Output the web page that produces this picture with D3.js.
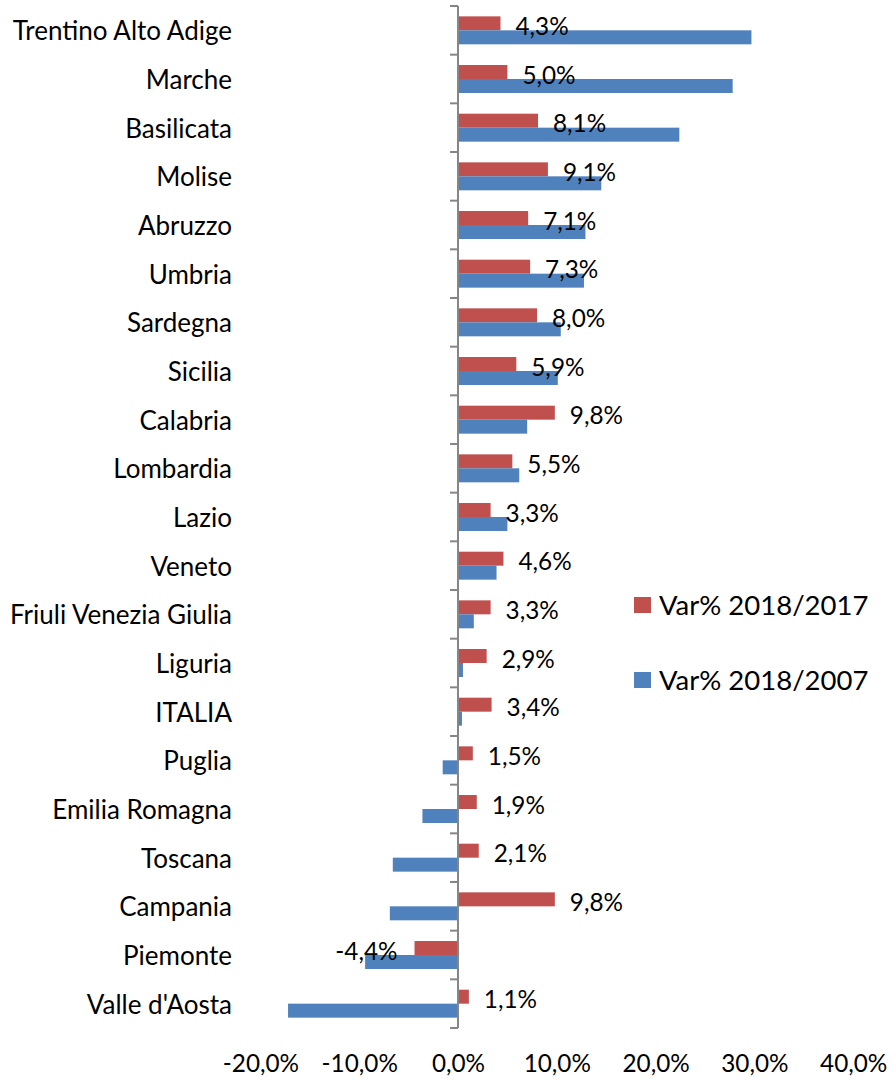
<!DOCTYPE html>
<html>
<head>
<meta charset="utf-8">
<script src="https://cdn.jsdelivr.net/npm/d3@7"></script>
<style>
  html, body { margin: 0; padding: 0; background: #fff; }
  svg text { font-family: Lato, "Open Sans", sans-serif; fill: #000; }
</style>
</head>
<body>
<svg id="chart" width="893" height="1081"></svg>
<script>
const regions = ["Trentino Alto Adige","Marche","Basilicata","Molise","Abruzzo","Umbria","Sardegna","Sicilia","Calabria","Lombardia","Lazio","Veneto","Friuli Venezia Giulia","Liguria","ITALIA","Puglia","Emilia Romagna","Toscana","Campania","Piemonte","Valle d'Aosta"];
const var2017 = [4.3,5.0,8.1,9.1,7.1,7.3,8.0,5.9,9.8,5.5,3.3,4.6,3.3,2.9,3.4,1.5,1.9,2.1,9.8,-4.4,1.1];
const var2007 = [29.7,27.8,22.4,14.5,12.9,12.75,10.4,10.1,7.0,6.2,5.0,3.9,1.6,0.5,0.4,-1.55,-3.6,-6.6,-6.9,-9.4,-17.2];
const xTicks = [-20,-10,0,10,20,30,40];
const seriesNames = ["Var% 2018/2017","Var% 2018/2007"];
const seriesKeys = ["s2017","s2007"];
const colors = ["#C0504D","#4F81BD"];

const rows = regions.map((r,i) => ({region:r, s2017:var2017[i], s2007:var2007[i]}));

const svg = d3.select("#chart");
const numSize = 24.3, catSize = 26, legSize = 27.5;

const x = d3.scaleLinear().domain([-20,40]).range([260.4,853.2]);
const y = d3.scaleBand().domain(regions).range([6,1028]).padding(0);
const ySub = d3.scaleBand().domain(seriesKeys).range([0,y.bandwidth()]).paddingInner(0).paddingOuter(0.74);
const color = d3.scaleOrdinal().domain(seriesKeys).range(colors);

const it = d3.formatLocale({decimal:",", thousands:".", grouping:[3], currency:["","€"], minus:"-"});
const fmtPct = it.format(".1f");

// bars
const g = svg.append("g");
seriesKeys.forEach(k => {
  g.selectAll("rect."+k).data(rows).join("rect")
    .attr("class", k)
    .attr("x", d => x(Math.min(0,d[k])))
    .attr("width", d => Math.abs(x(d[k]) - x(0)))
    .attr("y", d => y(d.region) + ySub(k))
    .attr("height", ySub.bandwidth())
    .attr("fill", color(k));
});

// data labels for 2018/2017
g.selectAll("text.lbl").data(rows).join("text")
  .attr("class","lbl")
  .attr("x", d => d.s2017 >= 0 ? x(d.s2017) + 15 : x(d.s2017) - 17)
  .attr("y", d => y(d.region) + ySub("s2017") + ySub.bandwidth()/2 + 3)
  .attr("dy", "0.35em")
  .attr("text-anchor", d => d.s2017 >= 0 ? "start" : "end")
  .style("font-size", numSize + "px")
  .text(d => fmtPct(d.s2017) + "%");

// vertical axis at zero
const ya = svg.append("g").attr("transform", `translate(${x(0)},0)`);
ya.append("line").attr("y1", y.range()[0]).attr("y2", y.range()[1])
  .attr("stroke", "#868686").attr("stroke-width", 2);
const boundaries = regions.map(r => y(r)).concat([y.range()[1]]);
ya.selectAll("line.tk").data(boundaries).join("line")
  .attr("class","tk").attr("x1",-8).attr("x2",0)
  .attr("y1", d=>d).attr("y2", d=>d)
  .attr("stroke", "#868686").attr("stroke-width", 2);

// category labels
svg.append("g").selectAll("text").data(regions).join("text")
  .attr("x", 232)
  .attr("y", d => y(d) + y.bandwidth()/2 + 1)
  .attr("dy","0.35em")
  .attr("text-anchor","end")
  .style("font-size", catSize + "px")
  .text(d => d);

// x axis tick labels (no line)
const xAxis = d3.axisBottom(x).tickValues(xTicks).tickSize(0).tickFormat(d => fmtPct(d) + "%");
const xa = svg.append("g").attr("transform","translate(0,1052)").call(xAxis);
xa.select(".domain").remove();
xa.selectAll("text").style("font-size", numSize + "px").attr("font-family", null).attr("fill","#000");

// legend
const leg = svg.append("g");
const legY = [605, 680];
seriesKeys.forEach((k,i) => {
  leg.append("rect").attr("x",634).attr("y",legY[i]-8).attr("width",17).attr("height",16).attr("fill",color(k));
  leg.append("text").attr("x",659).attr("y",legY[i]).attr("dy","0.35em")
    .style("font-size", legSize + "px").text(seriesNames[i]);
});
</script>
</body>
</html>
